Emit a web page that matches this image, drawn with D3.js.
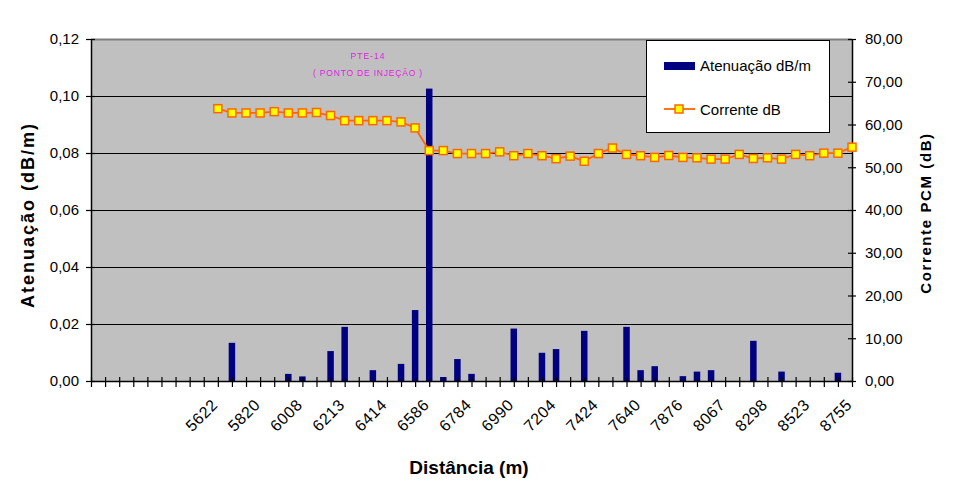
<!DOCTYPE html>
<html>
<head>
<meta charset="utf-8">
<script src="https://cdn.jsdelivr.net/npm/d3@7"></script>
<style>
  body { margin: 0; background: #fff; }
  text { font-family: "Liberation Sans", Arial, sans-serif; }
</style>
</head>
<body>
<div id="chart"></div>
<script>
// categories are slots 0..54, labels shown every 3rd slot
const tickLabels = ["", "", "", "5622", "5820", "6008", "6213", "6414", "6586", "6784",
  "6990", "7204", "7424", "7640", "7876", "8067", "8298", "8523", "8755"];

// Atenuação dB/m (left axis)
const attenuation = [
  0, 0, 0, 0, 0, 0, 0, 0, 0,
  0, 0.0134, 0, 0, 0, 0.0025, 0.0016, 0, 0.0105, 0.019,
  0, 0.0038, 0, 0.006, 0.0249, 0.1026, 0.0014, 0.0077, 0.0025, 0,
  0, 0.0184, 0, 0.0099, 0.0112, 0, 0.0176, 0, 0, 0.019,
  0.0038, 0.0052, 0, 0.0017, 0.0033, 0.0038, 0, 0, 0.0141, 0,
  0.0033, 0, 0, 0, 0.0029, 0
];

// Corrente dB (right axis)
const corrente = [
  null, null, null, null, null, null, null, null, null,
  63.7, 62.7, 62.7, 62.7, 63.0, 62.7, 62.7, 62.8, 62.1, 60.9,
  60.9, 60.9, 60.9, 60.6, 59.2, 53.9, 53.9, 53.2, 53.2, 53.2,
  53.6, 52.7, 53.2, 52.7, 52.0, 52.6, 51.4, 53.2, 54.5, 53.0,
  52.7, 52.3, 52.75, 52.3, 52.2, 51.9, 51.9, 53.0, 52.05, 52.2,
  51.9, 53.0, 52.7, 53.3, 53.3, 54.7
];

const leftTicks = [0, 0.02, 0.04, 0.06, 0.08, 0.10, 0.12];
const rightTicks = [0, 10, 20, 30, 40, 50, 60, 70, 80];

const width = 956, height = 491;
const plot = { left: 91, right: 852, top: 39, bottom: 381 };

const svg = d3.select("#chart").append("svg")
  .attr("width", width)
  .attr("height", height);

const x = d3.scalePoint()
  .domain(d3.range(attenuation.length))
  .range([plot.left, plot.right]);

const yL = d3.scaleLinear().domain([0, 0.12]).range([plot.bottom, plot.top]);
const yR = d3.scaleLinear().domain([0, 80]).range([plot.bottom, plot.top]);

const fmt2 = v => v.toFixed(2).replace(".", ",");

// plot background
svg.append("rect")
  .attr("x", plot.left).attr("y", plot.top)
  .attr("width", plot.right - plot.left)
  .attr("height", plot.bottom - plot.top)
  .attr("fill", "#C0C0C0");

// gridlines
svg.append("g")
  .selectAll("line")
  .data(leftTicks.filter(t => t > 0 && t < 0.12))
  .enter().append("line")
  .attr("x1", plot.left).attr("x2", plot.right)
  .attr("y1", d => Math.round(yL(d)) + 0.5)
  .attr("y2", d => Math.round(yL(d)) + 0.5)
  .attr("stroke", "#000")
  .attr("stroke-width", 1);

// top border
svg.append("line")
  .attr("x1", plot.left).attr("x2", plot.right)
  .attr("y1", plot.top + 0.5).attr("y2", plot.top + 0.5)
  .attr("stroke", "#808080").attr("stroke-width", 2);

// bars
const barW = 6.5;
svg.append("g")
  .selectAll("rect")
  .data(attenuation.map((v, i) => ({ i, v })).filter(d => d.v > 0))
  .enter().append("rect")
  .attr("x", d => x(d.i) - barW / 2)
  .attr("y", d => yL(d.v))
  .attr("width", barW)
  .attr("height", d => yL(0) - yL(d.v))
  .attr("fill", "#000080");

// axes
const leftAxis = d3.axisLeft(yL).tickValues(leftTicks).tickFormat(fmt2)
  .tickSizeInner(5).tickSizeOuter(0).tickPadding(7);
const gL = svg.append("g").attr("transform", `translate(${plot.left},0)`).call(leftAxis);

const rightAxis = d3.axisRight(yR).tickValues(rightTicks).tickFormat(fmt2)
  .tickSizeInner(4).tickSizeOuter(0).tickPadding(9);
const gR = svg.append("g").attr("transform", `translate(${plot.right},0)`).call(rightAxis);

const xAxis = d3.axisBottom(x).tickFormat("").tickSizeInner(6).tickSizeOuter(0);
const gX = svg.append("g").attr("transform", `translate(0,${plot.bottom})`).call(xAxis);

[gL, gR, gX].forEach(g => {
  g.select(".domain").attr("stroke", "#000").attr("stroke-width", 1.5);
  g.selectAll(".tick line").attr("stroke", "#000").attr("stroke-width", 1.2);
  g.selectAll(".tick text").attr("font-size", 15).attr("fill", "#000")
    .attr("font-family", "'Liberation Sans', Arial, sans-serif");
});
// ticks cross the axis
gL.selectAll(".tick line").attr("x1", 4);
gR.selectAll(".tick line").attr("x1", -4);
gX.selectAll(".tick line").attr("y1", -4);

// x tick labels, rotated
svg.append("g")
  .selectAll("text")
  .data(tickLabels.map((t, k) => ({ t, i: k * 3 })).filter(d => d.t))
  .enter().append("text")
  .attr("transform", d => `translate(${x(d.i) - 7},${plot.bottom + 17}) rotate(-45)`)
  .attr("text-anchor", "end")
  .attr("font-size", 16)
  .attr("letter-spacing", 0.5)
  .attr("dy", "0.7em")
  .text(d => d.t);

// line series
const lineData = corrente.map((v, i) => ({ i, v })).filter(d => d.v !== null);
svg.append("path")
  .datum(lineData)
  .attr("fill", "none")
  .attr("stroke", "#FF6600")
  .attr("stroke-width", 1.8)
  .attr("d", d3.line().x(d => x(d.i)).y(d => yR(d.v)));

svg.append("g")
  .selectAll("rect")
  .data(lineData)
  .enter().append("rect")
  .attr("x", d => x(d.i) - 4)
  .attr("y", d => yR(d.v) - 4)
  .attr("width", 8).attr("height", 8)
  .attr("fill", "#FFFF00")
  .attr("stroke", "#FF6600")
  .attr("stroke-width", 1.5);

// annotation
const ann = svg.append("g").attr("fill", "#E020E0").attr("font-size", 8.5).attr("text-anchor", "middle");
ann.append("text").attr("x", 368).attr("y", 59).attr("letter-spacing", 1).text("PTE-14");
ann.append("text").attr("x", 368).attr("y", 76).attr("letter-spacing", 0.8).text("( PONTO DE INJEÇÃO )");

// legend
const lg = svg.append("g");
lg.append("rect")
  .attr("x", 646.5).attr("y", 40.5).attr("width", 183).attr("height", 92)
  .attr("fill", "#fff").attr("stroke", "#000").attr("stroke-width", 1);
lg.append("rect").attr("x", 664).attr("y", 62).attr("width", 31).attr("height", 8).attr("fill", "#000080");
lg.append("text").attr("x", 700).attr("y", 71).attr("font-size", 15).text("Atenuação dB/m");
lg.append("line").attr("x1", 664).attr("x2", 695).attr("y1", 109).attr("y2", 109)
  .attr("stroke", "#FF6600").attr("stroke-width", 1.8);
lg.append("rect").attr("x", 675).attr("y", 105).attr("width", 8).attr("height", 8)
  .attr("fill", "#FFFF00").attr("stroke", "#FF6600").attr("stroke-width", 1.5);
lg.append("text").attr("x", 700).attr("y", 115).attr("font-size", 15).text("Corrente dB");

// axis titles
svg.append("text")
  .attr("transform", "translate(34,215) rotate(-90)")
  .attr("text-anchor", "middle")
  .attr("font-size", 18).attr("font-weight", "bold").attr("letter-spacing", 2)
  .text("Atenuação (dB/m)");

svg.append("text")
  .attr("transform", "translate(931,213) rotate(-90)")
  .attr("text-anchor", "middle")
  .attr("font-size", 15).attr("font-weight", "bold").attr("letter-spacing", 1.6)
  .text("Corrente PCM (dB)");

svg.append("text")
  .attr("x", 469).attr("y", 474)
  .attr("text-anchor", "middle")
  .attr("font-size", 19).attr("font-weight", "bold")
  .text("Distância (m)");
</script>
</body>
</html>
